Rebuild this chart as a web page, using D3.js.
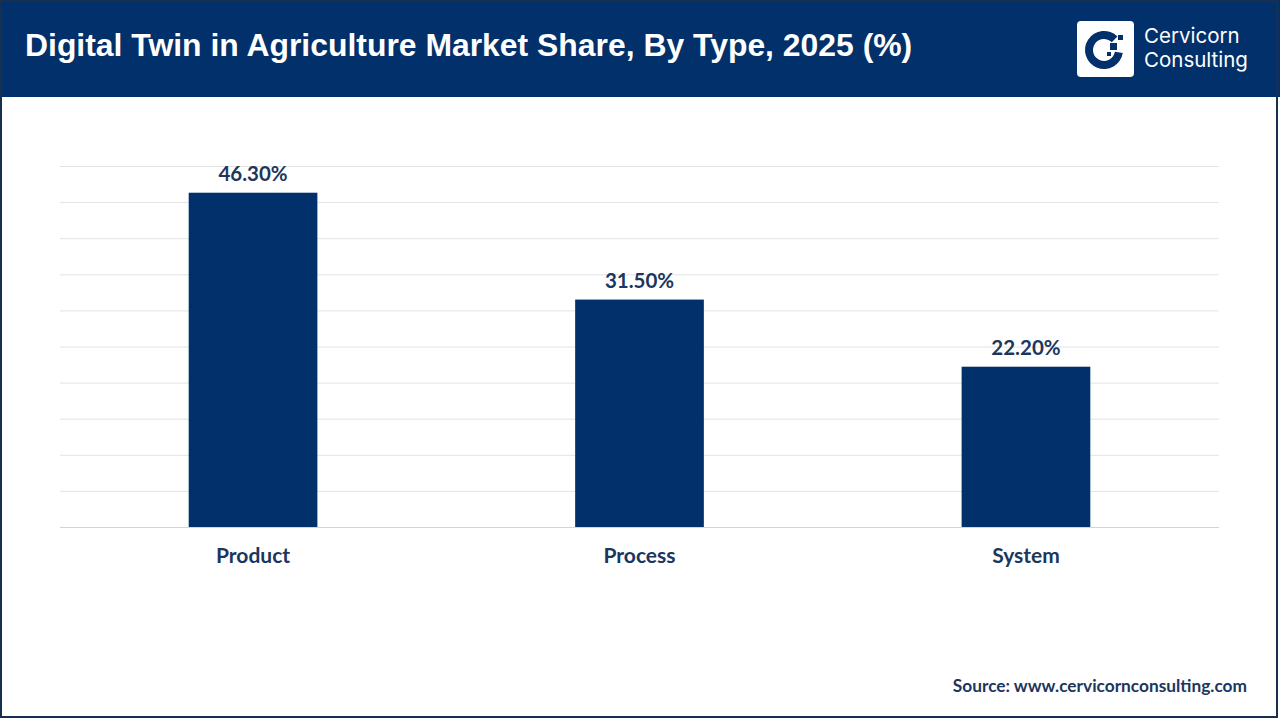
<!DOCTYPE html>
<html>
<head>
<meta charset="utf-8">
<script src="https://cdn.jsdelivr.net/npm/d3@7"></script>
<style>
  html, body { margin: 0; padding: 0; background: #fff; }
  svg { display: block; }
</style>
</head>
<body>
<svg id="viz" width="1280" height="720"></svg>
<script>
const categories = ['Product', 'Process', 'System'];
const shares = [46.3, 31.5, 22.2];
const yTicks = [0, 5, 10, 15, 20, 25, 30, 35, 40, 45, 50];

const NAVY = '#02306a';
const TEXT = '#1c365e';

const svg = d3.select('#viz');
const W = 1280, H = 720;

// frame + header
svg.append('rect').attr('x', 0).attr('y', 0).attr('width', W).attr('height', H).attr('fill', '#fff');
svg.append('rect').attr('x', 0).attr('y', 0).attr('width', W).attr('height', 97).attr('fill', NAVY);
svg.append('rect')
  .attr('x', 1).attr('y', 1).attr('width', W - 4).attr('height', H - 4)
  .attr('fill', 'none').attr('stroke', '#17304f').attr('stroke-width', 2);

svg.append('text')
  .attr('x', 25).attr('y', 56)
  .attr('fill', '#fff')
  .style('font-family', 'Liberation Sans, Arial, sans-serif')
  .style('font-weight', 'bold')
  .style('font-size', '31.9px')
  .text('Digital Twin in Agriculture Market Share, By Type, 2025 (%)');

// logo
const logo = svg.append('g').attr('transform', 'translate(1077,21)');
logo.append('rect').attr('width', 57).attr('height', 56).attr('rx', 4).attr('fill', '#fff');
const arc = d3.arc().innerRadius(11).outerRadius(19).startAngle(0.55 * Math.PI).endAngle(2.25 * Math.PI);
logo.append('path').attr('d', arc()).attr('transform', 'translate(27,29)').attr('fill', NAVY);
logo.append('rect').attr('x', 33).attr('y', 22).attr('width', 7).attr('height', 7).attr('fill', NAVY);
logo.append('rect').attr('x', 41).attr('y', 14).attr('width', 5).attr('height', 5).attr('fill', NAVY);
logo.append('rect').attr('x', 30).attr('y', 31).attr('width', 4).attr('height', 4).attr('fill', NAVY);
['Cervicorn', 'Consulting'].forEach((t, i) => {
  svg.append('text')
    .attr('x', 1144).attr('y', 43 + i * 24)
    .attr('fill', '#fff')
    .style('font-family', 'Inter, Roboto, sans-serif')
    .style('font-size', '20.5px')
    .text(t);
});

// chart
const margin = { left: 60, right: 61 };
const x = d3.scaleBand()
  .domain(categories)
  .range([margin.left, W - margin.right])
  .paddingInner(0.667)
  .paddingOuter(0.333);
const y = d3.scaleLinear().domain([0, 50]).range([527, 166]);

const grid = svg.append('g')
  .attr('transform', `translate(${margin.left},0)`)
  .call(d3.axisLeft(y).tickValues(yTicks).tickSize(-(W - margin.right - margin.left)).tickFormat(''));
grid.select('.domain').remove();
grid.selectAll('.tick line').attr('stroke', '#e3e3e3').attr('stroke-width', 1);
grid.selectAll('.tick').filter(d => d === 0).select('line').attr('stroke', '#d4d4d4');

svg.append('g').selectAll('rect')
  .data(shares)
  .join('rect')
  .attr('x', (d, i) => x(categories[i]))
  .attr('y', d => y(d))
  .attr('width', x.bandwidth())
  .attr('height', d => y(0) - y(d))
  .attr('fill', NAVY);

svg.append('g').selectAll('text')
  .data(shares)
  .join('text')
  .attr('x', (d, i) => x(categories[i]) + x.bandwidth() / 2)
  .attr('y', d => y(d) - 12)
  .attr('text-anchor', 'middle')
  .attr('fill', TEXT)
  .style('font-family', 'Lato, Open Sans, sans-serif')
  .style('font-weight', 'bold')
  .style('font-size', '20.5px')
  .text(d => d.toFixed(2) + '%');

const xAxis = svg.append('g')
  .attr('transform', 'translate(0,527)')
  .call(d3.axisBottom(x).tickSize(0).tickPadding(0));
xAxis.select('.domain').remove();
xAxis.selectAll('text')
  .attr('y', 36)
  .attr('dy', 0)
  .attr('fill', TEXT)
  .style('font-family', 'Lato, Open Sans, sans-serif')
  .style('font-weight', 'bold')
  .style('font-size', '21px');

svg.append('text')
  .attr('x', 1247).attr('y', 692)
  .attr('text-anchor', 'end')
  .attr('fill', TEXT)
  .style('font-family', 'Lato, Open Sans, sans-serif')
  .style('font-weight', 'bold')
  .style('font-size', '17.3px')
  .text('Source: www.cervicornconsulting.com');
</script>
</body>
</html>
